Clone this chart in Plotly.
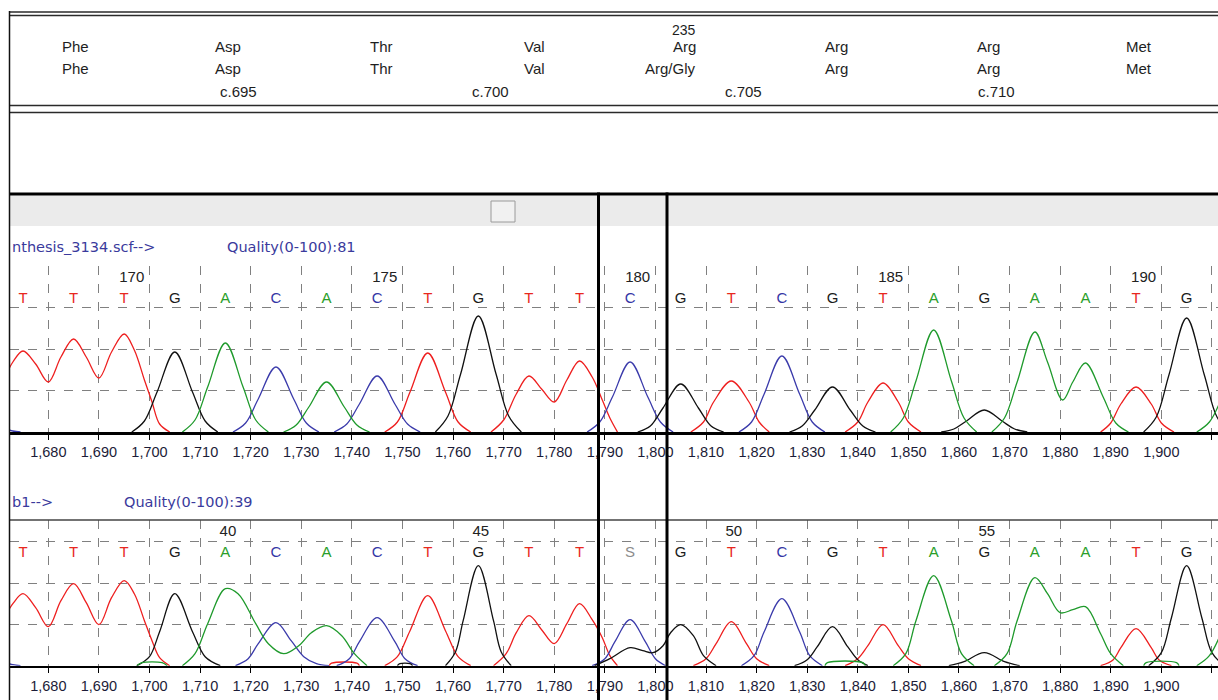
import plotly.graph_objects as go

W, H = 1218, 700

# ---------------- data ----------------
# codon centres (scan units) and amino-acid rows of the header
CODON_POS = [1685, 1715, 1745, 1775, 1805, 1835, 1865, 1895]
AA_REF = ["Phe", "Asp", "Thr", "Val", "Arg", "Arg", "Arg", "Met"]
AA_SAMPLE = ["Phe", "Asp", "Thr", "Val", "Arg/Gly", "Arg", "Arg", "Met"]
CODON_NUMBER_POS = 1805
CODON_NUMBER = "235"
CDNA_POS = [1715, 1765, 1815, 1865]
CDNA_LABELS = ["c.695", "c.700", "c.705", "c.710"]

# base calls
BASE_POS = [1675, 1685, 1695, 1705, 1715, 1725, 1735, 1745, 1755, 1765, 1775, 1785,
            1795, 1805, 1815, 1825, 1835, 1845, 1855, 1865, 1875, 1885, 1895, 1905]
TOP_BASES = ["T", "T", "T", "G", "A", "C", "A", "C", "T", "G", "T", "T",
             "C", "G", "T", "C", "G", "T", "A", "G", "A", "A", "T", "G"]
LOW_BASES = ["T", "T", "T", "G", "A", "C", "A", "C", "T", "G", "T", "T",
             "S", "G", "T", "C", "G", "T", "A", "G", "A", "A", "T", "G"]
TOP_NUM_POS = [1695, 1745, 1795, 1845, 1895]
TOP_NUMS = ["170", "175", "180", "185", "190"]
LOW_NUM_POS = [1715, 1765, 1815, 1865]
LOW_NUMS = ["40", "45", "50", "55"]

TOP_LABEL = "nthesis_3134.scf-->"
TOP_QUAL = "Quality(0-100):81"
LOW_LABEL = "b1-->"
LOW_QUAL = "Quality(0-100):39"

N = None
# ---- top trace (reference) ----
TOP_T_X = [1671, 1673, 1675, 1677.5, 1680, 1682.5, 1685, 1687.5, 1690, 1692.5, 1695, 1697, 1699, 1700.5, 1702, 1704, N,
           1746.5, 1749, 1751.5, 1755, 1758.5, 1761, 1763.5, N,
           1767.5, 1770, 1772.5, 1775, 1777.5, 1780, 1782.5, 1785, 1787.5, 1789.5, 1791, 1792.5, N,
           1807, 1809.5, 1811.5, 1815, 1818.5, 1820.5, 1822.5, N,
           1837.5, 1840, 1842, 1845, 1848, 1850, 1852.5, N,
           1888, 1890, 1892, 1895, 1898, 1900, 1902.5]
TOP_T_Y = [50, 70, 81, 68, 50, 75, 93, 75, 54, 80, 98, 82, 52, 30, 8, 0, N,
           0, 10, 40, 79, 40, 10, 0, N,
           0, 12, 38, 56, 43, 30, 52, 71, 55, 32, 14, 0, N,
           0, 10, 30, 51, 30, 10, 0, N,
           0, 10, 30, 49, 30, 10, 0, N,
           0, 9, 28, 45, 28, 9, 0]

TOP_C_X = [1671, 1673, 1674.5, N,
           1716.5, 1719, 1721.5, 1725, 1728.5, 1731, 1733.5, N,
           1736.5, 1739, 1741.5, 1745, 1748.5, 1751, 1753.5, N,
           1786.5, 1789, 1791.5, 1795, 1798.5, 1801, 1803.5, N,
           1816.5, 1819, 1821.5, 1825, 1828.5, 1831, 1833.5]
TOP_C_Y = [4, 1, 0, N,
           0, 9, 33, 65, 33, 9, 0, N,
           0, 8, 28, 56, 28, 8, 0, N,
           0, 10, 35, 70, 35, 10, 0, N,
           0, 10, 38, 76, 38, 10, 0]

TOP_G_X = [1696.5, 1699, 1701.5, 1705, 1708.5, 1711, 1713.5, N,
           1756.5, 1759, 1761.5, 1765, 1768.5, 1771, 1773.5, N,
           1796.5, 1799, 1801.5, 1805, 1808.5, 1811, 1813.5, N,
           1826.5, 1829, 1831.5, 1835, 1838.5, 1841, 1843.5, N,
           1856.5, 1859, 1861.5, 1865, 1868.5, 1871, 1873.5, N,
           1896.5, 1899, 1901.5, 1905, 1908.5, 1911, 1913.5]
TOP_G_Y = [0, 11, 40, 80, 40, 11, 0, N,
           0, 16, 58, 116, 58, 16, 0, N,
           0, 6, 24, 48, 24, 6, 0, N,
           0, 6, 22, 45, 22, 6, 0, N,
           0, 3, 11, 22, 11, 3, 0, N,
           0, 15, 57, 114, 57, 15, 0]

TOP_A_X = [1706.5, 1709, 1711.5, 1715, 1718.5, 1721, 1723.5, N,
           1726.5, 1729, 1731.5, 1735, 1738.5, 1741, 1743.5, N,
           1846.5, 1849, 1851.5, 1855, 1858.5, 1861, 1863.5, N,
           1866.5, 1869, 1871.5, 1875, 1877.5, 1880.5, 1882.5, 1885, 1888.5, 1891, 1893.5, N,
           1907, 1909.5, 1912]
TOP_A_Y = [0, 12, 45, 89, 45, 12, 0, N,
           0, 7, 25, 50, 25, 7, 0, N,
           0, 14, 51, 102, 51, 14, 0, N,
           0, 14, 50, 100, 70, 32, 50, 69, 35, 9, 0, N,
           0, 10, 35]

# ---- lower trace (sample) ----
LOW_T_X = [1671, 1673, 1675, 1677.5, 1680, 1682.5, 1685, 1687.5, 1690, 1692.5, 1695, 1697, 1699, 1700.5, 1702, 1704, N,
           1735.5, 1736, 1741, 1741.5, N,
           1746.5, 1749, 1751.5, 1755, 1758.5, 1761, 1763.5, N,
           1768, 1770.5, 1772.5, 1775, 1777.5, 1780, 1782.5, 1785, 1787.5, 1789.5, 1791, 1792.5, N,
           1807.5, 1810, 1812, 1815, 1818, 1820, 1822.5, N,
           1837.5, 1840, 1842, 1845, 1848, 1850, 1852.5, N,
           1888, 1890.5, 1892, 1895, 1898, 1899.5, 1902]
LOW_T_Y = [45, 62, 72, 58, 39, 65, 82, 63, 41, 68, 85, 72, 45, 25, 8, 0, N,
           0, 2.5, 2.5, 0, N,
           0, 9, 35, 70, 35, 9, 0, N,
           0, 12, 33, 50, 36, 22, 42, 62, 46, 28, 10, 0, N,
           0, 7, 22, 44, 22, 7, 0, N,
           0, 7, 20, 41, 20, 7, 0, N,
           0, 6, 18, 37, 18, 6, 0]

LOW_C_X = [1671, 1673, 1674.5, N,
           1717, 1719.5, 1721.5, 1725, 1728, 1730.5, 1733, 1735.5, N,
           1737, 1739.5, 1741.5, 1745, 1748.5, 1750.5, 1753, N,
           1787.5, 1790, 1792, 1795, 1798, 1800, 1802, N,
           1817, 1819.5, 1821.5, 1825, 1828.5, 1830.5, 1833]
LOW_C_Y = [4, 1, 0, N,
           0, 7, 22, 43, 25, 9, 2, 0, N,
           0, 7, 24, 48, 24, 7, 0, N,
           0, 7, 24, 46, 24, 7, 0, N,
           0, 10, 34, 67, 34, 10, 0]

LOW_G_X = [1697.5, 1700, 1702, 1705, 1708.5, 1711, 1714, N,
           1749, 1749.5, 1751.5, 1752, N,
           1758.5, 1760.5, 1762, 1765, 1768, 1769.5, 1771.5, N,
           1788, 1791, 1795, 1797.5, 1799.5, 1801.5, 1803, 1805, 1807.5, 1809.5, 1812, N,
           1827.5, 1830, 1832, 1835, 1838, 1840, 1842, N,
           1858, 1861, 1865, 1869, 1872, N,
           1897.5, 1900, 1902, 1905, 1908, 1910, 1912.5]
LOW_G_Y = [0, 9, 34, 72, 34, 9, 0, N,
           0, 2, 2, 0, N,
           0, 14, 45, 100, 45, 14, 0, N,
           0, 7, 18, 15, 13, 20, 33, 41, 30, 10, 0, N,
           0, 6, 19, 39, 19, 6, 0, N,
           0, 4, 13, 4, 0, N,
           0, 13, 48, 100, 48, 13, 0]

LOW_A_X = [1697.5, 1698.5, 1702.5, 1703.5, N,
           1706.5, 1709, 1711.5, 1715, 1717.5, 1721, 1723.5, 1726.5, 1729.5, 1732, 1735, 1738, 1740.5, 1743, N,
           1833.5, 1834, 1841, 1841.5, N,
           1847, 1849.5, 1851.5, 1855, 1858.5, 1860.5, 1863, N,
           1867, 1869.5, 1871.5, 1875, 1877.5, 1880, 1882.5, 1885, 1888, 1890, 1892.5, N,
           1896.5, 1897, 1903, 1903.5, N,
           1907, 1909.5, 1912]
LOW_A_Y = [0, 3, 3, 0, N,
           0, 12, 42, 77, 72, 42, 22, 12, 20, 33, 40, 30, 12, 0, N,
           0, 3, 3, 0, N,
           0, 12, 45, 90, 45, 12, 0, N,
           0, 12, 45, 88, 72, 53, 56, 59, 32, 12, 0, N,
           0, 3, 3, 0, N,
           0, 10, 35]

# ---------------- styling ----------------
TRACE_COL = {"A": "#1f9a2c", "C": "#3b3bab", "G": "#111111", "T": "#ee1f1f"}
LETTER_COL = {"A": "#2a9e2a", "C": "#3535a5", "G": "#1a1a1a", "T": "#e8281e", "S": "#8c8c8c"}
LABEL_COL = "#3a3a9c"
FONT = "Liberation Sans, Arial, sans-serif"


def px(x):
    return x / W


def py(y):
    return 1 - y / H


fig = go.Figure()

panels = [
    ("x", "y", {"T": (TOP_T_X, TOP_T_Y), "C": (TOP_C_X, TOP_C_Y), "G": (TOP_G_X, TOP_G_Y), "A": (TOP_A_X, TOP_A_Y)}),
    ("x2", "y2", {"T": (LOW_T_X, LOW_T_Y), "C": (LOW_C_X, LOW_C_Y), "G": (LOW_G_X, LOW_G_Y), "A": (LOW_A_X, LOW_A_Y)}),
]
for xa, ya, chans in panels:
    for base, (xs, ys) in chans.items():
        fig.add_trace(go.Scatter(x=xs, y=ys, xaxis=xa, yaxis=ya, mode="lines",
                                 line=dict(color=TRACE_COL[base], width=1.3, shape="spline", smoothing=1.0),
                                 connectgaps=False, hoverinfo="skip", showlegend=False))

TOP_BASE_H, TOP_NUM_H = 133, 154
LOW_BASE_H, LOW_NUM_H = 112.7, 133.7

fig.add_trace(go.Scatter(x=BASE_POS, y=[TOP_BASE_H] * len(BASE_POS), xaxis="x", yaxis="y", mode="text",
                         text=TOP_BASES, textposition="middle center",
                         textfont=dict(family=FONT, size=15, color=[LETTER_COL[b] for b in TOP_BASES]),
                         hoverinfo="skip", showlegend=False))
fig.add_trace(go.Scatter(x=[p + 1.5 for p in TOP_NUM_POS], y=[TOP_NUM_H] * len(TOP_NUM_POS), xaxis="x", yaxis="y",
                         mode="text", text=TOP_NUMS, textposition="middle center",
                         textfont=dict(family=FONT, size=15, color="#222222"), hoverinfo="skip", showlegend=False))
fig.add_trace(go.Scatter(x=BASE_POS, y=[LOW_BASE_H] * len(BASE_POS), xaxis="x2", yaxis="y2", mode="text",
                         text=LOW_BASES, textposition="middle center",
                         textfont=dict(family=FONT, size=15, color=[LETTER_COL[b] for b in LOW_BASES]),
                         hoverinfo="skip", showlegend=False))
fig.add_trace(go.Scatter(x=[p + 0.5 for p in LOW_NUM_POS], y=[LOW_NUM_H] * len(LOW_NUM_POS), xaxis="x2", yaxis="y2",
                         mode="text", text=LOW_NUMS, textposition="middle center",
                         textfont=dict(family=FONT, size=15, color="#222222"), hoverinfo="skip", showlegend=False))

X_RANGE = [1672.43, 1911.2]
xaxis_common = dict(domain=[px(10), 1], range=X_RANGE, tickmode="linear", tick0=1680, dtick=10,
                    tickformat=",d", ticks="outside", ticklen=5, tickcolor="#000", tickwidth=1,
                    showline=True, linecolor="#000", linewidth=2.5, showgrid=True, gridcolor="#808080",
                    griddash="dash", gridwidth=1, zeroline=False, fixedrange=True,
                    tickfont=dict(family=FONT, size=14.5, color="#1c1c38"))
yaxis_common = dict(showticklabels=False, ticks="", showline=False, zeroline=False, showgrid=True,
                    gridcolor="#808080", griddash="dash", gridwidth=1, tick0=0, tickmode="linear", fixedrange=True)

fig.update_layout(
    width=W, height=H, autosize=False,
    margin=dict(l=0, r=0, t=0, b=0, pad=0),
    paper_bgcolor="white", plot_bgcolor="white",
    xaxis=dict(anchor="y", **xaxis_common),
    xaxis2=dict(anchor="y2", **xaxis_common),
    yaxis=dict(anchor="x", domain=[py(432), py(265.8)], range=[0, 166.2], dtick=41.5, **yaxis_common),
    yaxis2=dict(anchor="x2", domain=[py(665.7), py(520)], range=[0, 145.7], dtick=41.3, **yaxis_common),
    showlegend=False,
)

ann = []
hdr_font = dict(family=FONT, size=15, color="#1e1e1e")
for pos, a1, a2 in zip(CODON_POS, AA_REF, AA_SAMPLE):
    ann.append(dict(x=pos + 3.5, xref="x", y=py(46), yref="paper", text=a1, showarrow=False,
                    xanchor="right", yanchor="middle", font=hdr_font))
    ann.append(dict(x=pos + 3.5, xref="x", y=py(68), yref="paper", text=a2, showarrow=False,
                    xanchor="right", yanchor="middle", font=hdr_font))
ann.append(dict(x=CODON_NUMBER_POS + 3.5, xref="x", y=py(30), yref="paper", text=CODON_NUMBER, showarrow=False,
                xanchor="right", yanchor="middle", font=dict(family=FONT, size=14, color="#1e1e1e")))
for pos, lab in zip(CDNA_POS, CDNA_LABELS):
    ann.append(dict(x=pos + 2.5, xref="x", y=py(91), yref="paper", text=lab, showarrow=False,
                    xanchor="center", yanchor="middle", font=hdr_font))

lab_font = dict(family="DejaVu Sans, sans-serif", size=14.5, color=LABEL_COL)
ann.append(dict(x=px(10), xref="paper", y=py(247), yref="paper", text=TOP_LABEL, showarrow=False,
                xanchor="left", yanchor="middle", font=lab_font))
ann.append(dict(x=px(225), xref="paper", y=py(247), yref="paper", text=TOP_QUAL, showarrow=False,
                xanchor="left", yanchor="middle", font=lab_font))
ann.append(dict(x=px(10), xref="paper", y=py(502), yref="paper", text=LOW_LABEL, showarrow=False,
                xanchor="left", yanchor="middle", font=lab_font))
ann.append(dict(x=px(122), xref="paper", y=py(502), yref="paper", text=LOW_QUAL, showarrow=False,
                xanchor="left", yanchor="middle", font=lab_font))
fig.update_layout(annotations=ann)


def hline(y, x0, x1, color, width):
    return dict(type="line", xref="paper", yref="paper", x0=px(x0), x1=px(x1), y0=py(y), y1=py(y),
                line=dict(color=color, width=width))


def vline(x, y0, y1, color, width):
    return dict(type="line", xref="paper", yref="paper", x0=px(x), x1=px(x), y0=py(y0), y1=py(y1),
                line=dict(color=color, width=width))


shapes = [
    dict(type="rect", xref="paper", yref="paper", x0=px(10), x1=1, y0=py(226), y1=py(195.5),
         fillcolor="#ebebeb", line=dict(width=0), layer="below"),
    dict(type="rect", xref="paper", yref="paper", x0=px(491), x1=px(515), y0=py(222), y1=py(201),
         fillcolor="#f1f1f1", line=dict(color="#9a9a9a", width=1)),
    hline(12, 9, W, "#2a2a2a", 1.5),
    hline(15.5, 9, W, "#2a2a2a", 1.5),
    hline(105.5, 9, W, "#2a2a2a", 1.5),
    hline(112.5, 9, W, "#2a2a2a", 1.5),
    hline(194, 9, W, "#000000", 3),
    hline(520, 10, W, "#444444", 1.5),
    vline(9.5, 11, H, "#111111", 1.5),
    vline(598.5, 192.5, H, "#000000", 3),
    vline(667, 192.5, H, "#000000", 3),
]
fig.update_layout(shapes=shapes)

fig.write_html("out.html", config={"displayModeBar": False, "staticPlot": True},
               post_script="document.body.style.margin='0';")
